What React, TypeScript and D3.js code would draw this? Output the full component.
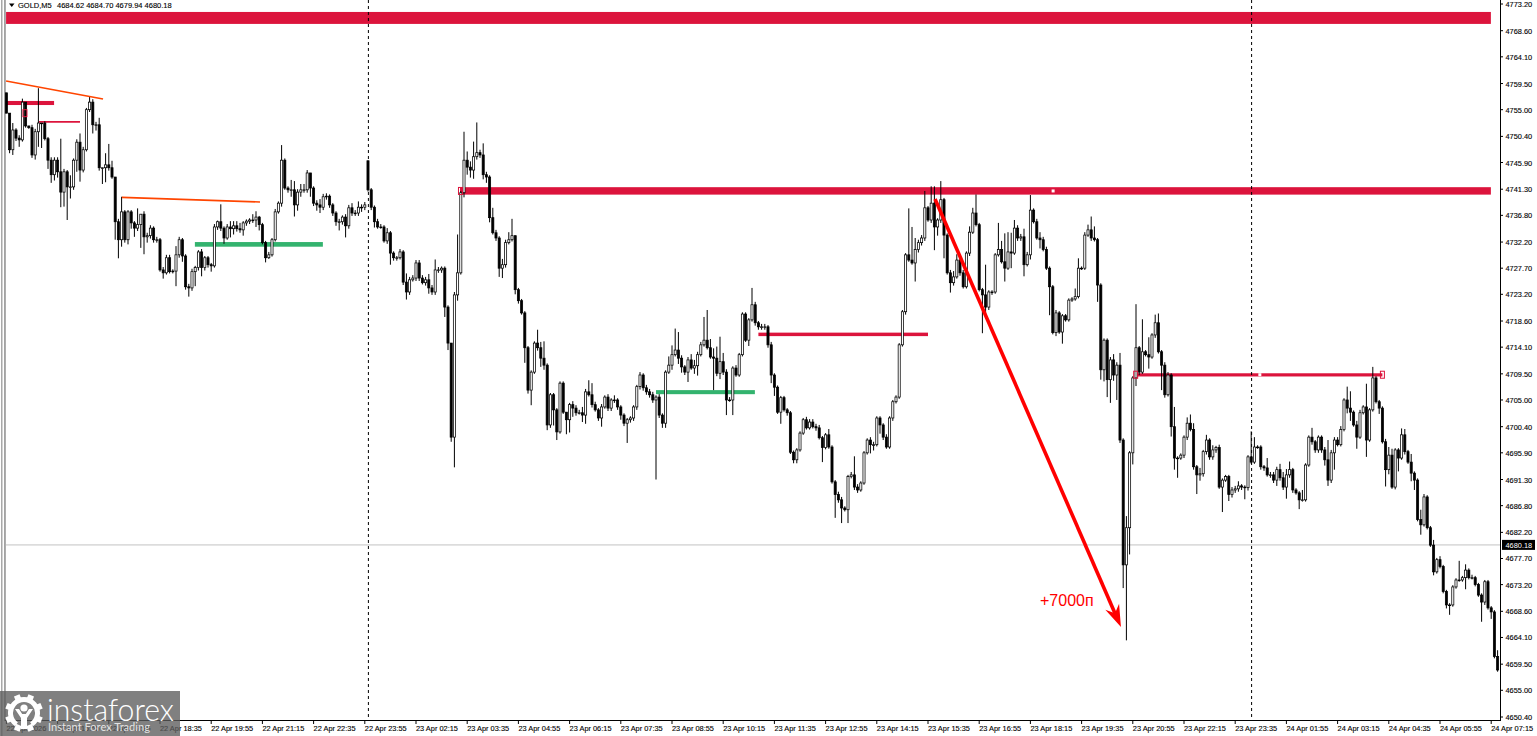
import React from "react";
import * as d3 from "d3";

const title = "GOLD,M5";
const titleQuote = "4684.62 4684.70 4679.94 4680.18";
const lastPrice = 4680.18;
const firstOpen = 4757.9;
const gapOpens: Record<number, number> = { 113: 4746.2 };

const closes = [
4754.4,4748.1,4751.5,4750.1,4749.8,4756.3,4752.2,4751.9,4747.2,4751.2,4752.7,4752.7,4750,4746.3,4743.8,4746.3,
4744.3,4740.8,4744.3,4741.7,4741.7,4746.3,4749.4,4744.6,4748.1,4755,4756.3,4752.4,4752.4,4745,4745,4745.5,
4745,4743.4,4735.7,4732.6,4737.4,4732.6,4737.4,4735.5,4734.6,4735.2,4737,4733.1,4733.3,4734.6,4732.6,4732.6,
4727.4,4726.9,4729.5,4727.1,4727.2,4730,4732.6,4729.8,4724.5,4724.3,4727.1,4727.8,4730.5,4727.8,4729.5,4728.3,
4728.1,4734.8,4735.7,4734.6,4732.9,4734.8,4734.5,4735,4734.5,4734.3,4735.5,4735.8,4736,4736,4736.5,4735.2,
4732.1,4729.5,4730,4732.6,4737.4,4738.9,4746.3,4741.5,4741.2,4741.2,4738.6,4740.8,4741.2,4741.2,4744.1,4741.5,
4738.9,4738.6,4738.2,4740,4740.1,4738.6,4737.2,4735.7,4735.7,4736.5,4735,4738.1,4737.2,4737.2,4738.2,4738.2,
4738.6,4741.2,
4738.2,4735.7,4734.8,4734.8,4732.4,4733.8,4730.3,4729.5,4729.5,4730.5,4725.3,4723.6,4725.7,4726,4728.6,
4726,4725.2,4725.7,4724.3,4723.6,4727.4,4727.4,4727.7,4721,4714.8,4698.6,4723.1,4726.9,4740.7,4746.3,4745.1,
4744.6,4746.9,4747.6,4747.2,4743.8,4743.4,4736.4,4733.8,4732.9,4727.7,4728.3,4732.1,4732.6,4733.3,4724,4722.1,
4720,4714,4706.7,4709.8,4714.8,4714,4712.2,4711,4700.7,4705.9,4703.3,4699.5,4707.9,4702.9,4701.6,4704.2,
4703.6,4702.8,4702.8,4702.4,4706.4,4705.9,4704.2,4703.3,4701.9,4703.8,4705.5,4703.6,4705,4705,4703.8,4702.4,
4701,4701.6,4701.9,4703.8,4707.3,4709.3,4707.1,4706.4,4705.9,4705,4705.5,4702.4,4701,4709.8,4711,4712.8,
4713.6,4712.2,4710.7,4709.8,4711.9,4710.5,4710.9,4712.8,4714.5,4715.3,4714,4712.4,4712.2,4709.6,4711.6,4709.8,
4705,4705,4710.5,4709.3,4712.8,4719.8,4715.3,4718.8,
4721.4,4718.3,4717.6,4717.6,4717.6,4714.5,4709.3,4707.2,4702.9,4705.4,4703.3,4702.8,4696,4694.7,4696.4,4699.3,
4701.6,4700.2,4701.2,4700.4,4700.2,4698.5,4696.8,4699,4696.9,4690.9,4688.7,4687.8,4686.4,4686.1,4691.8,4692.1,
4690,4689.5,4690.7,4695.9,4698.1,4697.3,4697.3,4701.9,4700.7,4698.6,4696.9,4701.9,4704.7,4705.5,4714.5,4720.2,
4730,4729.1,4728.6,4730.9,4732.1,4732.9,4738.1,4736,4738.9,4734.8,4736,4739.5,4733.4,4726.9,4725.2,4726.2,
4729.1,4726.9,4724.5,4730.3,4733.9,4737.2,4735.2,4724,4723.1,4721,4723.6,4723.6,4730,4730.9,4728.8,4727.7,
4730.5,4730.3,4734.6,4732.9,4733.1,4728.3,4730,4737.7,4735.7,4732.9,4732.6,4730.9,4727.7,4724.5,4716.6,4720,
4716.7,4719.5,4718.8,4722.2,4722.4,4722.8,4727.7,4727.7,4733.4,4734.3,4732.9,4732.6,4724.8,4710.2,4715.3,4708.5,4711.9,4709.3,4711,
4698.1,4676.6,4683,4695.9,4708.8,4714,4709.8,4713.3,4712.8,4712.4,4716.2,4718.3,4713.3,4711,4705.9,4709.3,
4700.4,4695,4695,4695.5,4698.6,4701,4699.9,4693.5,4692.1,4692.3,4696.1,4698.1,4695.2,4696.4,4696.8,4690,
4691.2,4691.8,4688.7,4689.5,4689.7,4690.2,4690,4689.9,4695.2,4694.3,4696.9,4696.9,4693.5,4693.3,4692.1,4692.1,
4691.2,4693,4691.6,4690,4692.1,4693,4689.5,4689,4687.8,4687.8,4693.8,4698.6,4697.8,4696.4,4698.6,4696.4,
4694.7,4691.2,4695.9,4698.1,4697.3,4699.9,4705,4703.6,4702.9,4700.7,4698.6,4702.8,4703.8,4698.1,4703.3,4708.8,
4704.7,4703.6,4697.8,4693,4695.5,4690,4696.4,4695,4699,4696.1,4694.3,4692.4,4691.2,4684.4,4683.5,4688.3,
4683,4680,4675.4,4677.5,4676.3,4672,4669.7,4669.7,4672.8,4674,4674,4674.4,4675.7,4674.4,4674.4,4673.2,
4671.4,4670.2,4673.7,4669.2,4668.5,4660.8,4658.5,
];

const upperWicks = [
0,0,1.2,.3,.5,.6,0,0,.5,.5,6,0,.3,.3,.5,.5,
.5,5.7,.5,.3,2,.3,.5,1.5,.5,.3,1,.5,.5,1.2,0,2,
3.6,1.2,0,.5,2.6,.3,.3,.3,.3,2.8,0,.5,.5,.5,.3,.5,
.3,.5,.5,.5,.3,1.5,.5,.3,.3,.5,.5,.3,.3,.5,.3,.3,
.3,.5,.2,3,.3,.5,1,.8,.8,1,.3,.3,.3,1,1,.2,
.3,.3,.5,.3,.5,.3,2.6,.3,.3,1.7,1.5,.5,1,1,.5,0,
.3,.5,1,.5,.5,.3,.3,.3,.5,.3,.5,.5,.8,.5,1,.5,
.5,0,.3,.3,.5,.5,.3,.8,.3,.3,.3,.5,.3,1.5,.5,.5,.5,
.5,.5,.5,1,.5,1.8,.5,.3,.3,.3,0,.5,6.6,.3,4.9,1.5,
1,2.6,5.2,.5,2,.5,.3,1.7,.5,.3,1,.5,1.3,2.9,0,.3,
.3,.3,.3,.3,.3,2.3,1,2.9,.3,.3,.3,.3,.3,.3,0,.3,
.6,.5,.5,1,.5,2,2,.5,.3,.5,.3,.5,.3,.8,.3,.3,
.3,.3,.3,.3,.3,.5,.3,.5,.5,.5,.3,.5,.3,.3,1.5,1.6,
3.7,3.1,.5,.3,.5,1,1,.5,.5,4,5.2,1.5,1.5,2,4.3,1.5,
.5,.5,.3,.5,.3,.3,.3,.3,
2.9,.5,.3,.5,.5,.3,.5,.3,.3,.3,.3,.3,.3,.3,.3,.3,
.3,.5,.5,.5,.5,.5,.3,.3,1,.3,.3,.5,.5,.3,.3,.5,
3.2,.5,.3,.3,.3,.5,.5,.3,.3,.3,.5,.3,.3,.3,.3,.3,
.3,8,5.7,2,.5,.5,2.9,.3,2.9,2.9,.3,3.2,.3,.3,.5,1,
1,.5,.5,.3,1,.9,3.2,.3,.3,5.2,.3,.3,.3,4.6,1.5,4.9,
3.4,3.3,1.4,.5,.5,1.4,.5,2.6,.3,.5,1,.5,.5,.3,.3,.5,
.3,.3,.3,.3,.3,1.4,1.7,.3,.5,.9,2.3,2,.3,.3,.3,.3,.5,1,.5,
2.1,.3,2,.3,.3,7.5,.3,5.6,.3,3,.3,1.4,1.6,.3,.5,.5,
.3,3.4,.3,.3,.3,1,1.5,1.1,.3,1,.3,.9,.3,.8,.3,.5,
.3,.3,.3,.5,.5,.8,.3,.3,.3,4.4,1.7,.3,.3,.3,1.7,.5,
.5,.5,1,1,1,1.4,.3,.3,.3,1.7,.3,.3,1.6,.3,.3,.3,
.5,3.4,.5,.5,.5,.6,.3,2.3,2.9,.3,.7,.5,.3,4,.3,1.9,
.3,.3,.3,.5,1.4,1.1,.3,.3,1.1,1,.3,1.4,.3,.3,1.7,.5,
.3,.3,.9,.3,.6,.3,.3,.3,.3,.3,3.3,.3,1,.3,.5,.3,
.3,.3,.3,.3,.3,.3,1.1,
];

const lowerWicks = [
0,.6,.9,.5,1.2,.3,.3,.2,.5,.8,2.6,4.3,.3,1.5,1.4,1,
1,2.6,2.5,5.7,2,.5,2,2,.4,.3,.4,1.5,1,.5,2.8,2.5,
.5,.3,3.1,3.2,1.2,.5,.8,1,1.5,.5,4,3,1,.5,.5,.5,
.3,1,.3,.3,.3,2.6,.5,1,.5,1.5,.5,2.5,.5,1.5,.5,.5,
1,.3,.5,.5,1,.3,1.5,1,.5,.5,1,.5,.5,.5,1.2,1,
.3,.8,.2,.3,.3,.3,.6,.3,.5,1.2,2,1,.8,.5,.5,1.5,
.5,1,1,.5,.5,.5,.5,.7,1.5,.5,2,.5,.5,.5,.5,.8,
.5,.3,.5,1,.3,.3,.3,.5,2,.5,.5,.3,.5,1.3,.5,.3,.5,
.5,.3,.5,1,.5,.5,.5,.5,1.7,1.2,.8,5.2,1,.3,.8,1.3,
1.3,1.5,.5,.5,.8,1,.8,.3,.5,1.5,1.7,.5,.3,.3,.8,.5,
.3,2.6,.6,2.6,.3,.5,1.5,.8,.9,.5,2.7,1.4,.3,.3,2.5,2.2,
1.5,.5,.3,1.2,1.5,.3,.5,.3,.5,1.5,.3,.5,.5,.5,.5,.8,
.5,3.4,.5,.5,.5,.5,.5,.5,.5,.5,13.7,.5,.8,.8,.3,.8,
.3,1,1,.5,1.7,.3,1,1.7,.3,.3,.3,.3,5.5,.5,1,.5,
2.6,.3,2.6,.3,.3,.3,.3,1,
.3,.5,.5,.5,.5,.5,1.4,1.5,.3,2,.3,.5,.3,.6,.6,.3,
.3,.3,.3,.3,.5,.3,2.5,.3,.3,.3,4,.5,2.6,.3,2.3,.3,
.5,.5,.3,.3,.3,1.5,1,.3,1.5,.5,.3,.3,.5,.3,.3,.3,
.5,.3,.3,3.2,.5,.5,.5,.3,.5,4,1.5,.5,4,.3,1.7,.5,
.3,.5,.3,.3,.5,.3,.3,.3,6.6,2,.5,.5,.3,.3,.3,2.3,
.3,2.6,.3,.5,.5,2,.3,.8,.3,.3,1.5,.3,.3,4.9,.3,.6,
.3,2,.3,.3,.3,.3,.3,.3,.3,.3,.5,.3,2.9,1.7,2,3,4,1,4.3,
.5,4,13,4.6,2,1.4,.5,.3,.3,2,.3,.5,.3,4.3,.5,.3,
1.7,2,3.4,.3,.5,.5,.3,.5,3.3,1,.5,.5,.5,.5,.5,.3,
4.3,.3,1.1,.5,.5,.5,.5,2,.5,.3,.3,.3,.5,.5,.3,.5,
.5,1,.5,.5,2,.5,.5,.3,1.6,.3,.3,.3,.5,.5,.5,.5,
1,1,.5,2.9,.3,.3,.3,.9,1.5,.3,2,.3,.3,2.9,.3,.3,
.3,1,.3,2.9,.8,.3,.4,2.3,.3,.5,.3,1.4,1.7,.3,1.7,.3,
.3,.3,.6,.3,.3,.3,.6,1.7,.3,.3,.3,.3,2,.3,.3,.3,
.3,3.4,.5,.3,1.2,.3,.3,
];

const timeLabels = ["22 Apr 2026","22 Apr 15:55","22 Apr 17:15","22 Apr 18:35","22 Apr 19:55","22 Apr 21:15","22 Apr 22:35","22 Apr 23:55","23 Apr 02:15","23 Apr 03:35","23 Apr 04:55","23 Apr 06:15","23 Apr 07:35","23 Apr 08:55","23 Apr 10:15","23 Apr 11:35","23 Apr 12:55","23 Apr 14:15","23 Apr 15:35","23 Apr 16:55","23 Apr 18:15","23 Apr 19:35","23 Apr 20:55","23 Apr 22:15","23 Apr 23:35","24 Apr 01:55","24 Apr 03:15","24 Apr 04:35","24 Apr 05:55","24 Apr 07:15"];
const priceLabels = ["4773.20","4768.60","4764.10","4759.50","4755.00","4750.40","4745.90","4741.30","4736.80","4732.20","4727.70","4723.20","4718.60","4714.10","4709.50","4705.00","4700.40","4695.90","4691.30","4686.80","4682.20","4677.70","4673.20","4668.60","4664.10","4659.50","4655.00","4650.40"];
const dayBreaks = [113, 389];

const redZones: [number, number, number, number][] = [
  [-0.1, 463.9, 4771.83, 4769.77],
  [-0.1, 14.9, 4756.5, 4755.8],
  [10.2, 23, 4753.05, 4752.75],
  [141.75, 463.9, 4741.65, 4740.37],
  [235, 288, 4716.6, 4716.0],
  [352.7, 430, 4709.6, 4709.05],
];
const greenZones: [number, number, number, number][] = [
  [58.9, 98.9, 4732.2, 4731.4],
  [203, 233.9, 4706.7, 4706.0],
];
const orangeLines: [number, number, number, number][] = [
  [-0.1, 4759.95, 30.2, 4756.85],
  [36.1, 4739.9, 79.25, 4739.1],
];
const hollowHandles: [number, number][] = [[5.8, 4754.4], [141.9, 4741], [352.9, 4709.35], [430, 4709.35]];
const whiteDots: [number, number][] = [[327.1, 4741], [391.7, 4709.35]];
const arrowFrom: [number, number] = [290.2, 4739.6];
const arrowTo: [number, number] = [348.3, 4665.9];
const arrowLabel = "+7000п";
const brandName = "instaforex";
const brandTagline = "Instant Forex Trading";

const FONT = "'Liberation Sans', Arial, sans-serif";
const INK = "#000";
const CRIMSON = "#dc143c";

const x = d3.scaleLinear().domain([48, 64]).range([160, 211.2]);
const y = d3.scaleLinear().domain([4650.4, 4773.2]).range([717, 4]);

const bars = closes.map((c, i) => {
  const o = gapOpens[i] ?? (i === 0 ? firstOpen : closes[i - 1]);
  return {
    i, o, c,
    h: Math.max(o, c) + (upperWicks[i] ?? 0),
    l: Math.min(o, c) - (lowerWicks[i] ?? 0),
  };
});

const gearTeeth = d3.range(8).map((k) => k * 45 + 22.5);
const ringArc = d3.arc()({ innerRadius: 11, outerRadius: 16, startAngle: -2.55, endAngle: 2.55 }) as string;

function Candles() {
  return (
    <g>
      {bars.map((b) => {
        const cx = x(b.i);
        const top = y(Math.max(b.o, b.c));
        const bot = y(Math.min(b.o, b.c));
        const up = b.c >= b.o;
        return (
          <g key={b.i}>
            <line x1={cx} x2={cx} y1={y(b.h)} y2={y(b.l)} stroke={INK} strokeWidth={1} />
            <rect x={cx - 1.05} width={2.1} y={top} height={Math.max(bot - top, 0.7)}
              fill={up ? "#fff" : INK} stroke={INK} strokeWidth={0.75} />
          </g>
        );
      })}
    </g>
  );
}

function Arrow() {
  const [x0, y0] = [x(arrowFrom[0]), y(arrowFrom[1])];
  const [x1, y1] = [x(arrowTo[0]), y(arrowTo[1])];
  const ang = Math.atan2(y1 - y0, x1 - x0);
  const along = (d: number, off: number): [number, number] => [
    x1 - d * Math.cos(ang) - off * Math.sin(ang),
    y1 - d * Math.sin(ang) + off * Math.cos(ang),
  ];
  const head = [along(0, 0), along(22, 7.5), along(15, 0), along(22, -7.5)];
  const shaftEnd = along(14, 0);
  return (
    <g>
      <line x1={x0} y1={y0} x2={shaftEnd[0]} y2={shaftEnd[1]} stroke="#ff0000" strokeWidth={3.6} />
      <polygon points={head.map((p) => p.join(",")).join(" ")} fill="#ff0000" />
    </g>
  );
}

function Watermark() {
  return (
    <g>
      <rect x={0} y={691} width={180} height={45} fill="#5c5c5c" fillOpacity={0.78} />
      <g transform="translate(24,713)" fill="#fff">
        <path d={ringArc} />
        {gearTeeth.map((a) => (
          <rect key={a} x={-3} y={-19} width={6} height={6} transform={`rotate(${a})`} />
        ))}
        <circle cx={0} cy={-5} r={3.6} />
        <path d="M-9,-4 L-5,-4 L-1.8,1 L1.8,1 L5,-4 L9,-4 L3,5 L3,16 L-3,16 L-3,5 Z" />
      </g>
      <text x={47} y={720.5} fill="#fff" fontFamily="Lato, sans-serif" fontWeight={300} fontSize={32}
        textLength={127} lengthAdjust="spacingAndGlyphs">{brandName}</text>
      <text x={48} y={731} fill="#fff" fillOpacity={0.8} fontFamily="Lato, sans-serif" fontSize={11.4}
        textLength={102} lengthAdjust="spacingAndGlyphs">{brandTagline}</text>
    </g>
  );
}

export default function App() {
  return (
    <svg width={1537} height={736} viewBox="0 0 1537 736"
      style={{ position: "fixed", left: 0, top: 0, background: "#fff", display: "block" }}>
      <rect x={1} y={0} width={1.5} height={736} fill="#a8a8a8" />
      <rect x={4.2} y={0} width={1.5} height={721} fill="#8c8c8c" />

      {redZones.map((z, k) => (
        <rect key={k} x={x(z[0])} width={x(z[1]) - x(z[0])} y={y(z[2])} height={y(z[3]) - y(z[2])} fill={CRIMSON} />
      ))}
      {greenZones.map((z, k) => (
        <rect key={k} x={x(z[0])} width={x(z[1]) - x(z[0])} y={y(z[2])} height={y(z[3]) - y(z[2])} fill="#33b36e" />
      ))}

      <line x1={6} x2={1500} y1={y(lastPrice) + 0.8} y2={y(lastPrice) + 0.8} stroke="#dcdcdc" strokeWidth={1.6} />
      {dayBreaks.map((d) => (
        <line key={d} x1={x(d) + 0.4} x2={x(d) + 0.4} y1={0} y2={721} stroke={INK} strokeWidth={1} strokeDasharray="3 3" />
      ))}

      <Candles />

      {orangeLines.map((l, k) => (
        <line key={k} x1={x(l[0])} y1={y(l[1])} x2={x(l[2])} y2={y(l[3])} stroke="#ff4500" strokeWidth={1.6} />
      ))}
      {hollowHandles.map((h, k) => (
        <rect key={k} x={x(h[0]) - 2} y={y(h[1]) - 3.5} width={4} height={7} fill="none" stroke={CRIMSON} strokeWidth={1} />
      ))}
      {whiteDots.map((h, k) => (
        <rect key={k} x={x(h[0]) - 1.5} y={y(h[1]) - 1.5} width={3} height={3} fill="#fff" />
      ))}

      <Arrow />
      <text x={1040} y={606} fill="#ff0000" fontFamily={FONT} fontSize={16}>{arrowLabel}</text>

      <path d="M9,3.5 L14.5,3.5 L11.75,7 Z" fill={INK} />
      <text x={18} y={8} fontFamily={FONT} fontSize={7.5} fill={INK} stroke={INK} strokeWidth={0.12}>{title}</text>
      <text x={57} y={8} fontFamily={FONT} fontSize={7.5} fill={INK} stroke={INK} strokeWidth={0.12}>{titleQuote}</text>

      <line x1={1500.5} x2={1500.5} y1={0} y2={721} stroke={INK} strokeWidth={1} />
      <line x1={5} x2={1500.5} y1={720.5} y2={720.5} stroke={INK} strokeWidth={1} />
      {priceLabels.map((p) => (
        <g key={p}>
          <line x1={1500} x2={1503} y1={y(+p)} y2={y(+p)} stroke={INK} strokeWidth={1} />
          <text x={1505.5} y={y(+p) + 3} fontFamily={FONT} fontSize={7.4} fill={INK} stroke={INK} strokeWidth={0.12}>{p}</text>
        </g>
      ))}
      {timeLabels.map((t, k) => {
        const tx = x(k * 16);
        return (
          <g key={t}>
            <line x1={tx} x2={tx} y1={720} y2={724} stroke={INK} strokeWidth={1} />
            <text x={tx} y={730.5} fontFamily={FONT} fontSize={7.4} fill={INK} stroke={INK} strokeWidth={0.12}>{t}</text>
          </g>
        );
      })}
      <rect x={1502} y={y(lastPrice) - 4.2} width={33} height={10} fill={INK} />
      <text x={1505.5} y={y(lastPrice) + 3.6} fontFamily={FONT} fontSize={7.4} fill="#fff">{lastPrice.toFixed(2)}</text>

      <Watermark />
    </svg>
  );
}
